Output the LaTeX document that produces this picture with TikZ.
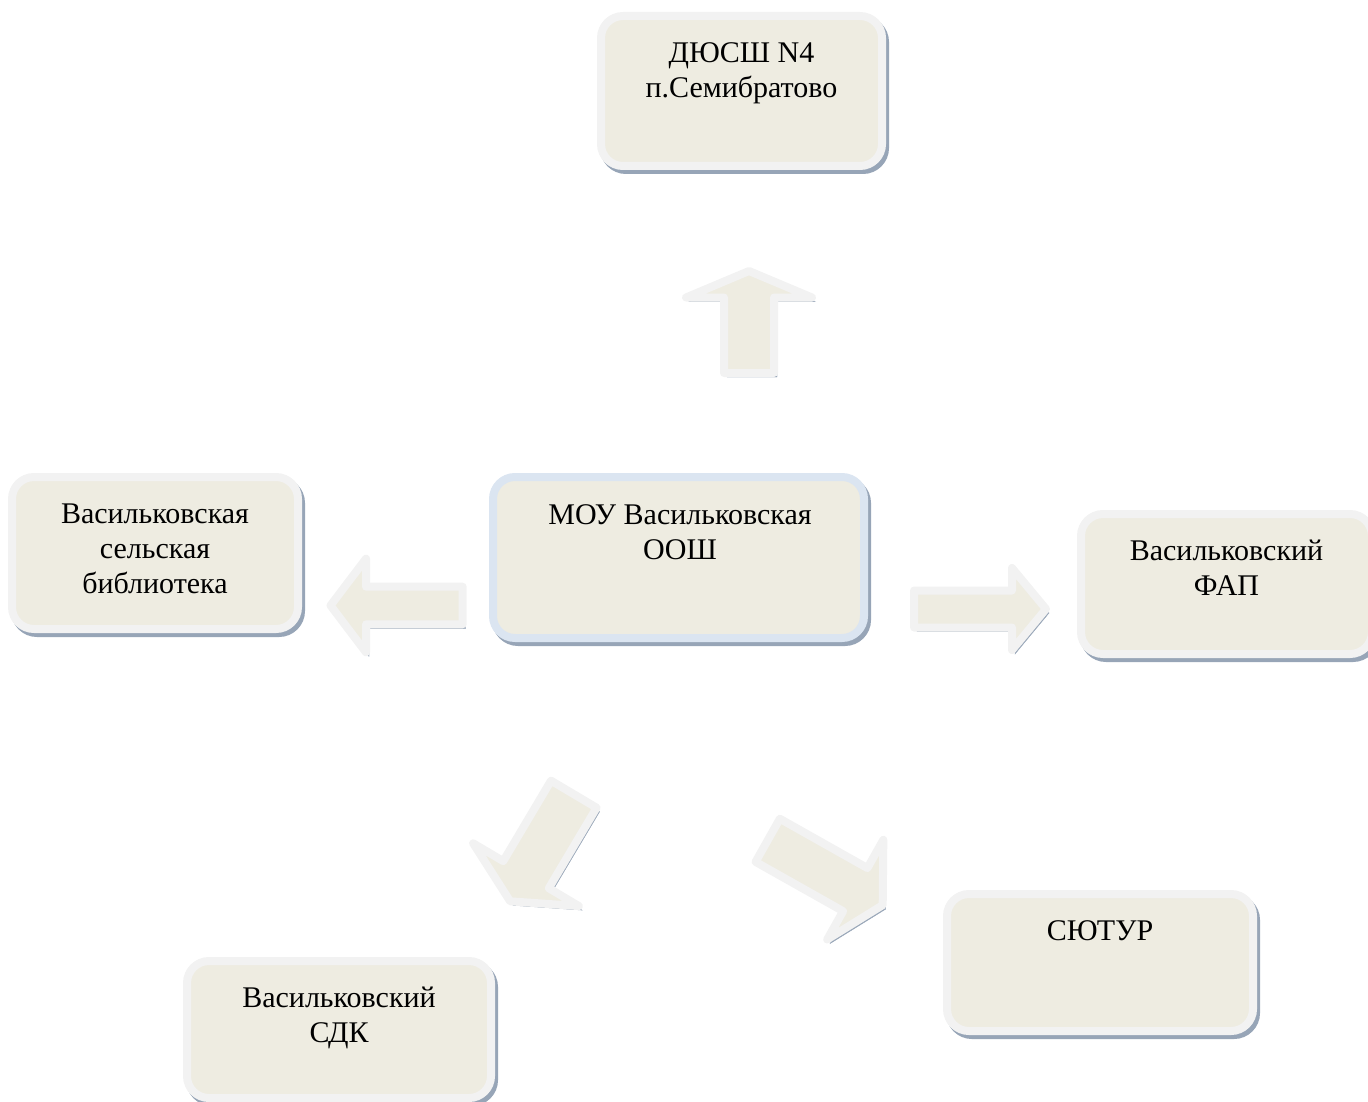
\documentclass[tikz,border=0pt]{standalone}
\usepackage{fontspec}
\setmainfont{Liberation Serif}
\usetikzlibrary{positioning}

\definecolor{boxfill}{HTML}{EEECE1}
\definecolor{boxline}{HTML}{F2F2F2}
\definecolor{schoolline}{HTML}{DBE5F1}
\definecolor{shadowcol}{HTML}{97A5B7}

\tikzset{
	withshadow/.style = {preaction = {draw = shadowcol, fill = shadowcol, transform canvas = {shift = {(3pt,-4pt)}}}},
	orgbox/.style = {rectangle, rounded corners = 22pt, draw = boxline, fill = boxfill, line width = 8pt, inner sep = 0pt, outer sep = 0pt, withshadow},
	boxtext/.style = {anchor = north, inner sep = 0pt, align = center, font = \fontsize{30}{35}\selectfont},
	bigarrow/.style = {draw = boxline, fill = boxfill, line width = 8pt, line join = round, withshadow}
}

% tail x, tail y, angle, length, shaft width, head width, head length
\newcommand{\blockarrow}[7]{%
	\draw[bigarrow, shift = {(#1,#2)}, rotate = #3]
		(0,{-#5/2}) -- ({#4-#7},{-#5/2}) -- ({#4-#7},{-#6/2}) -- (#4,0)
		-- ({#4-#7},{#6/2}) -- ({#4-#7},{#5/2}) -- (0,{#5/2}) -- cycle;}

\begin{document}
\begin{tikzpicture}[x = 1pt, y = -1pt]
	
	\useasboundingbox (0,0) rectangle (1368,1102);
	
	\node[orgbox, minimum width = 281pt, minimum height = 150pt] (sport) at (741.5, 91) {};
	\node[orgbox, minimum width = 286pt, minimum height = 152pt] (library) at (155, 553) {};
	\node[orgbox, draw = schoolline, minimum width = 371pt, minimum height = 161pt] (school) at (678.5, 557.5) {};
	\node[orgbox, minimum width = 291pt, minimum height = 140pt] (fap) at (1226.5, 584) {};
	\node[orgbox, minimum width = 304pt, minimum height = 137pt] (sdk) at (339, 1029.5) {};
	\node[orgbox, minimum width = 306pt, minimum height = 137pt] (syutur) at (1100, 962.5) {};
	
	\node[boxtext, below = 22pt of sport.north] (sporttext) {\strut ДЮСШ N4\\п.Семибратово};
	\node[boxtext, below = 22pt of library.north] (librarytext) {\strut Васильковская\\сельская\\библиотека};
	\node[boxtext, below = 23pt of school.north, xshift = 1.5pt] (schooltext) {\strut МОУ Васильковская\\ООШ};
	\node[boxtext, below = 22pt of fap.north] (faptext) {\strut Васильковский\\ФАП};
	\node[boxtext, below = 22pt of sdk.north] (sdktext) {\strut Васильковский\\СДК};
	\node[boxtext, below = 22pt of syutur.north] (syuturtext) {\strut СЮТУР};
	
	%arrows
	\blockarrow{749}{373}{90}{102}{50}{126}{26.5}
	\blockarrow{462.7}{605.5}{180}{132.2}{37.6}{93.7}{35.5}
	\blockarrow{914}{609}{0}{132}{37}{82}{34}
	\blockarrow{573.8}{794.2}{239.3}{124.6}{53}{123}{31}
	\blockarrow{767.7}{840.3}{-29.4}{132}{49.5}{114.4}{31.5}
	
\end{tikzpicture}
\end{document}
